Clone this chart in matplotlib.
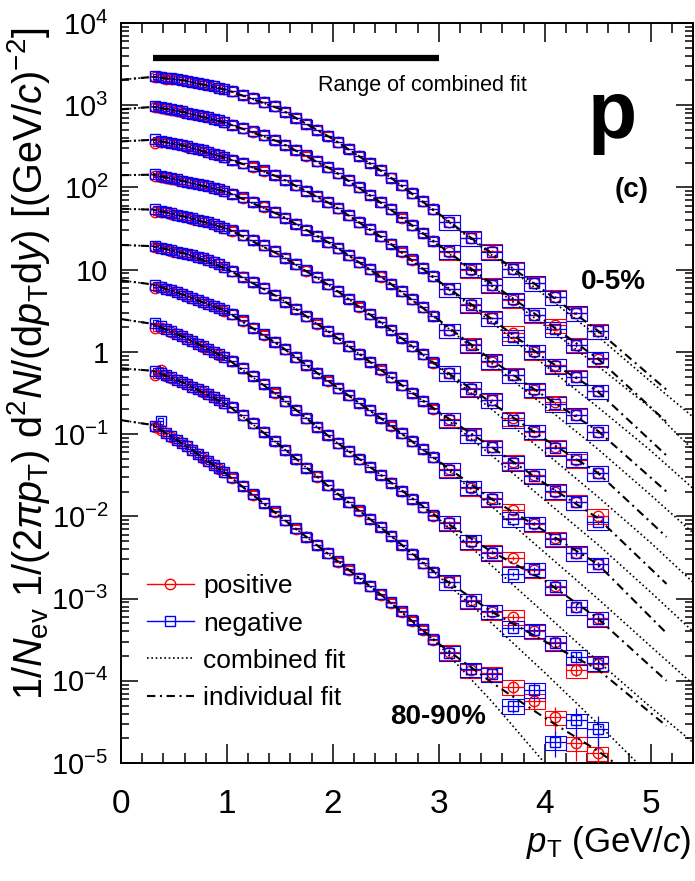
"""
Identified proton spectra, ten centrality classes, positive and negative
charge, with combined and individual fits.  Writes out.png.
"""

import numpy as np
import matplotlib
matplotlib.use("Agg")
import matplotlib.pyplot as plt
import matplotlib.ticker as ticker
from matplotlib.lines import Line2D

plt.rcParams["font.family"] = ["Liberation Sans", "DejaVu Sans"]
plt.rcParams["mathtext.fontset"] = "custom"
plt.rcParams["mathtext.rm"] = "Liberation Sans"
plt.rcParams["mathtext.it"] = "Liberation Sans:italic"
plt.rcParams["mathtext.bf"] = "Liberation Sans:bold"

# ---------------------------------------------------------------------------
# Data
# ---------------------------------------------------------------------------

PT_EDGES = [0.30, 0.35, 0.40, 0.45, 0.50, 0.55, 0.60, 0.65, 0.70, 0.75,
            0.80, 0.85, 0.90, 0.95, 1.00, 1.1, 1.2, 1.3, 1.4, 1.5, 1.6,
            1.7, 1.8, 1.9, 2.0, 2.1, 2.2, 2.3, 2.4, 2.5, 2.6, 2.7, 2.8,
            2.9, 3.0, 3.2, 3.4, 3.6, 3.8, 4.0, 4.2, 4.4, 4.6]

CENTRALITIES = ["0-5%", "5-10%", "10-20%", "20-30%", "30-40%",
                "40-50%", "50-60%", "60-70%", "70-80%", "80-90%"]

pos_0_5 = [2220, 2190, 2080, 2110, 2070, 2030, 1980, 1930, 1870, 1820, 1750, 1690, 1630, 1570,
           1470, 1340, 1210, 1090, 966, 832, 700, 596, 501, 427, 355, 295, 243, 200, 162, 132,
           107, 85.0, 68.0, 54.0,
           38.3, 24.0, 17.0, 10.1, 6.80, 4.68, 2.94, 1.80]
neg_0_5 = [2250, 2200, 2170, 2120, 2080, 2030, 1990, 1930, 1880, 1820, 1760, 1700, 1630, 1580,
           1480, 1340, 1220, 1090, 970, 835, 705, 598, 503, 428, 356, 296, 244, 200, 163, 132,
           107, 85.5, 68.0, 54.5,
           38.0, 24.5, 16.6, 10.3, 6.90, 4.60, 3.00, 1.78]

pos_5_10 = [960, 938, 912, 887, 861, 836, 813, 789, 766, 741, 713, 684, 653, 617,
            578, 527, 479, 431, 380, 331, 285, 244, 208, 177, 148, 122, 100, 81.0, 66.0, 54.0,
            43.0, 34.7, 27.9, 22.4,
            16.5, 9.90, 6.60, 4.27, 2.81, 2.10, 1.23, 0.83]
neg_5_10 = [975, 945, 918, 890, 865, 840, 815, 790, 768, 742, 715, 686, 655, 620,
            580, 528, 480, 432, 381, 332, 286, 245, 209, 177, 148, 122, 101, 81.5, 66.0, 54.0,
            43.3, 34.8, 28.0, 22.5,
            16.8, 10.1, 6.50, 4.35, 2.85, 1.92, 1.20, 0.84]

pos_10_20 = [345, 355, 356, 345, 334, 324, 314, 305, 295, 283, 270, 258, 245, 232,
             216, 197, 179, 160, 141, 123, 106, 91.0, 78.0, 66.0, 55.6, 45.9, 37.8, 31.0, 25.4,
             20.7, 16.6, 13.2, 10.5, 8.30,
             5.75, 3.81, 2.56, 1.70, 1.00, 0.69, 0.50, 0.33]
neg_10_20 = [385, 370, 358, 346, 335, 325, 315, 305, 296, 284, 271, 258, 246, 233,
             217, 198, 180, 161, 142, 124, 107, 91.5, 78.0, 66.5, 55.8, 46.0, 38.0, 31.1, 25.5,
             20.8, 16.7, 13.3, 10.5, 8.35,
             5.80, 3.75, 2.60, 1.52, 1.02, 0.68, 0.49, 0.33]

pos_20_30 = [138, 135, 132, 128, 124, 121, 117, 114, 111, 107, 104, 99.0, 95.0, 90.0,
             83.6, 75.2, 67.0, 58.6, 50.1, 42.7, 35.9, 30.5, 25.7, 21.6, 18.1, 15.0, 12.3, 10.1,
             8.26, 6.76, 5.43, 4.37, 3.47, 2.75,
             1.84, 1.24, 0.76, 0.53, 0.343, 0.243, 0.170, 0.107]
neg_20_30 = [145, 139, 133, 129, 125, 121, 118, 114, 111, 108, 104, 99.5, 95.0, 90.5,
             84.0, 75.5, 67.2, 58.8, 50.3, 42.8, 36.0, 30.6, 25.8, 21.7, 18.2, 15.0, 12.4, 10.1,
             8.30, 6.78, 5.45, 4.38, 3.48, 2.76,
             1.84, 1.20, 0.78, 0.52, 0.350, 0.235, 0.172, 0.107]

pos_30_40 = [50.0, 50.5, 49.7, 48.1, 46.5, 44.9, 43.4, 41.9, 40.5, 39.1, 37.6, 36.0, 34.3, 32.4,
             29.9, 26.3, 22.9, 19.7, 16.7, 14.0, 11.6, 9.77, 8.13, 6.61, 5.47, 4.42, 3.56, 2.87,
             2.31, 1.85, 1.48, 1.17, 0.933, 0.741,
             0.557, 0.360, 0.259, 0.155, 0.107, 0.070, 0.0483, 0.0339]
neg_30_40 = [55.0, 52.0, 49.9, 48.3, 46.6, 45.0, 43.5, 42.0, 40.6, 39.2, 37.7, 36.1, 34.4, 32.5,
             30.0, 26.4, 23.0, 19.8, 16.8, 14.0, 11.7, 9.80, 8.15, 6.63, 5.48, 4.43, 3.57, 2.88,
             2.32, 1.86, 1.48, 1.18, 0.935, 0.745,
             0.560, 0.355, 0.262, 0.150, 0.108, 0.068, 0.050, 0.034]

pos_40_50 = [19.0, 18.3, 17.7, 17.1, 16.6, 16.0, 15.5, 14.9, 14.3, 13.7, 13.0, 12.3, 11.6, 10.7,
             9.55, 8.22, 7.08, 5.96, 4.95, 4.07, 3.33, 2.72, 2.21, 1.80, 1.46, 1.17, 0.944, 0.759,
             0.610, 0.490, 0.394, 0.316, 0.254, 0.204,
             0.151, 0.097, 0.070, 0.046, 0.0316, 0.0200, 0.0151, 0.0102]
neg_40_50 = [19.5, 18.6, 17.8, 17.2, 16.6, 16.1, 15.5, 15.0, 14.4, 13.7, 13.1, 12.3, 11.6, 10.8,
             9.60, 8.25, 7.10, 5.98, 4.97, 4.08, 3.34, 2.73, 2.22, 1.81, 1.46, 1.18, 0.948, 0.762,
             0.612, 0.492, 0.396, 0.318, 0.255, 0.205,
             0.150, 0.098, 0.069, 0.045, 0.0310, 0.0205, 0.0148, 0.0085]

pos_50_60 = [6.00, 6.17, 5.89, 5.60, 5.32, 5.05, 4.79, 4.53, 4.29, 4.05, 3.82, 3.60, 3.39, 3.18,
             2.88, 2.40, 1.97, 1.62, 1.32, 1.07, 0.861, 0.692, 0.556, 0.447, 0.363, 0.295, 0.240,
             0.195, 0.158, 0.127, 0.102, 0.0822, 0.0661, 0.0525,
             0.0372, 0.0224, 0.0166, 0.0119, 0.0081, 0.0054, 0.00355, 0.00263]
neg_50_60 = [6.60, 6.20, 5.90, 5.62, 5.33, 5.06, 4.80, 4.54, 4.30, 4.06, 3.83, 3.61, 3.40, 3.19,
             2.89, 2.41, 1.98, 1.63, 1.33, 1.07, 0.865, 0.695, 0.558, 0.449, 0.364, 0.296, 0.241,
             0.196, 0.159, 0.128, 0.102, 0.0825, 0.0663, 0.0527,
             0.0370, 0.0226, 0.0163, 0.0093, 0.0082, 0.0053, 0.00360, 0.00260]

pos_60_70 = [1.95, 1.98, 1.89, 1.77, 1.66, 1.55, 1.45, 1.35, 1.25, 1.16, 1.08, 1.00, 0.925, 0.855,
             0.776, 0.638, 0.513, 0.407, 0.320, 0.251, 0.197, 0.155, 0.123, 0.0977, 0.0776, 0.0617,
             0.0495, 0.0398, 0.0320, 0.0257, 0.0204, 0.0162, 0.0129, 0.0102,
             0.0085, 0.0049, 0.0037, 0.0031, 0.00224, 0.00141, 0.00079, 0.00058]
neg_60_70 = [2.25, 2.04, 1.90, 1.78, 1.67, 1.56, 1.45, 1.35, 1.26, 1.17, 1.08, 1.00, 0.930, 0.860,
             0.780, 0.640, 0.515, 0.408, 0.321, 0.252, 0.198, 0.156, 0.123, 0.0980, 0.0778, 0.0619,
             0.0497, 0.0400, 0.0321, 0.0258, 0.0205, 0.0163, 0.0130, 0.0103,
             0.0084, 0.0050, 0.0036, 0.0020, 0.00226, 0.00140, 0.00080, 0.00057]

pos_70_80 = [0.520, 0.600, 0.516, 0.488, 0.459, 0.432, 0.405, 0.378, 0.353, 0.329, 0.305, 0.282,
             0.261, 0.240,
             0.211, 0.170, 0.135, 0.106, 0.0832, 0.0646, 0.0501, 0.0389, 0.0305, 0.0240, 0.0188,
             0.0148, 0.0117, 0.00933, 0.00741, 0.00575, 0.00447, 0.00347, 0.00269, 0.00209,
             0.00158, 0.00095, 0.00069, 0.00060, 0.00040, 0.000295, 0.000135, 0.000162]
neg_70_80 = [0.590, 0.550, 0.518, 0.490, 0.460, 0.433, 0.406, 0.379, 0.354, 0.330, 0.306, 0.283,
             0.262, 0.241,
             0.212, 0.171, 0.136, 0.107, 0.0835, 0.0648, 0.0503, 0.0390, 0.0306, 0.0241, 0.0189,
             0.0149, 0.0118, 0.00938, 0.00745, 0.00578, 0.00450, 0.00349, 0.00271, 0.00210,
             0.00160, 0.00094, 0.00070, 0.00044, 0.00041, 0.000290, 0.000195, 0.000165]

pos_80_90 = [0.123, 0.112, 0.102, 0.0933, 0.0851, 0.0776, 0.0708, 0.0638, 0.0575, 0.0519, 0.0468,
             0.0422, 0.0380, 0.0343,
             0.0295, 0.0234, 0.0184, 0.0145, 0.0114, 0.00891, 0.00708, 0.00562, 0.00447, 0.00355,
             0.00282, 0.00224, 0.00178, 0.00141, 0.00112, 0.00089, 0.00069, 0.00054, 0.00042,
             0.000316,
             0.000224, 0.000135, 0.000123, 8.5e-5, 5.75e-5, 3.6e-5, 1.74e-5, 1.32e-5]
neg_80_90 = [0.125, 0.145, 0.104, 0.0940, 0.0855, 0.0780, 0.0710, 0.0640, 0.0578, 0.0521, 0.0470,
             0.0424, 0.0382, 0.0345,
             0.0297, 0.0236, 0.0185, 0.0146, 0.0115, 0.00895, 0.00712, 0.00565, 0.00450, 0.00357,
             0.00284, 0.00226, 0.00179, 0.00142, 0.00113, 0.00090, 0.00070, 0.00055, 0.00043,
             0.000320,
             0.000220, 0.000138, 0.000120, 5.0e-5, 7.8e-5, 1.8e-5, 3.3e-5, 2.6e-5]

POSITIVE = [pos_0_5, pos_5_10, pos_10_20, pos_20_30, pos_30_40,
            pos_40_50, pos_50_60, pos_60_70, pos_70_80, pos_80_90]
NEGATIVE = [neg_0_5, neg_5_10, neg_10_20, neg_20_30, neg_30_40,
            neg_40_50, neg_50_60, neg_60_70, neg_70_80, neg_80_90]

# relative statistical errors of the eight bins above 3 GeV/c
STAT_REL_HIGH = [
    [0.01, 0.01, 0.015, 0.02, 0.02, 0.03, 0.03, 0.04],
    [0.01, 0.015, 0.015, 0.02, 0.025, 0.03, 0.035, 0.04],
    [0.01, 0.01, 0.015, 0.02, 0.02, 0.025, 0.03, 0.035],
    [0.01, 0.01, 0.015, 0.02, 0.02, 0.025, 0.03, 0.035],
    [0.01, 0.015, 0.015, 0.02, 0.025, 0.03, 0.035, 0.04],
    [0.015, 0.02, 0.02, 0.025, 0.03, 0.04, 0.045, 0.05],
    [0.02, 0.025, 0.03, 0.035, 0.04, 0.05, 0.06, 0.07],
    [0.03, 0.035, 0.04, 0.05, 0.06, 0.07, 0.08, 0.10],
    [0.04, 0.05, 0.06, 0.08, 0.10, 0.12, 0.15, 0.18],
    [0.08, 0.10, 0.12, 0.18, 0.22, 0.35, 0.40, 0.45],
]
# relative systematic errors (boxes) below 1, 1-3 and above 3 GeV/c
SYS_REL_LOW, SYS_REL_MID, SYS_REL_HIGH = 0.08, 0.12, 0.20

# fit curves
IND_PT = [0.0, 0.3, 0.6, 1.0, 1.5, 2.0, 2.5, 3.0, 3.5, 4.0, 4.5, 5.15]
COMB_PT = [0.0, 0.3, 0.6, 1.0, 1.5, 2.0, 2.5, 3.0, 3.5, 4.0, 4.5, 5.0, 5.4]

ind_0_5 = [2040, 2210, 2000, 1530, 902, 389, 146, 47.9, 15.8, 5.50, 1.82, 0.347]
ind_5_10 = [891, 955, 822, 603, 355, 162, 59.4, 20.0, 6.76, 2.40, 0.832, 0.141]
ind_10_20 = [363, 380, 320, 226, 132, 61.1, 22.9, 7.24, 2.51, 0.832, 0.331, 0.0550]
ind_20_30 = [141, 143, 119, 87.9, 46.1, 20.0, 7.46, 2.45, 0.794, 0.288, 0.110, 0.0200]
ind_30_40 = [55.0, 53.7, 44.2, 31.6, 15.1, 6.03, 2.06, 0.661, 0.240, 0.0871, 0.0339, 0.00562]
ind_40_50 = [20.0, 19.3, 15.8, 10.2, 4.52, 1.62, 0.547, 0.186, 0.0692, 0.0251, 0.00955, 0.00151]
ind_50_60 = [7.41, 6.61, 4.90, 3.09, 1.19, 0.403, 0.141, 0.0468, 0.0162, 0.00661, 0.00263, 0.000380]
ind_60_70 = [2.51, 2.19, 1.50, 0.83, 0.283, 0.0861, 0.0288, 0.00955, 0.00372, 0.00166, 0.000575,
             0.000100]
ind_70_80 = [0.631, 0.589, 0.417, 0.229, 0.0733, 0.0209, 0.00653, 0.00191, 0.000692, 0.000302,
             0.000138, 2.82e-5]
ind_80_90 = [0.148, 0.129, 0.0741, 0.0324, 0.0100, 0.00316, 0.00100, 0.000282, 9.55e-5, 3.55e-5,
             1.41e-5, 3.55e-6]

comb_0_5 = [2040, 2210, 2000, 1530, 902, 389, 146, 46.8, 15.1, 4.90, 1.55, 0.437, 0.162]
comb_5_10 = [891, 955, 822, 603, 355, 162, 59.4, 19.5, 6.31, 2.09, 0.676, 0.209, 0.0646]
comb_10_20 = [363, 380, 320, 226, 132, 61.1, 22.9, 7.08, 2.29, 0.692, 0.214, 0.0631, 0.0219]
comb_20_30 = [141, 143, 119, 87.9, 46.1, 20.0, 7.46, 2.40, 0.724, 0.219, 0.0661, 0.0182, 0.00631]
comb_30_40 = [55.0, 53.7, 44.2, 31.6, 15.1, 6.03, 2.06, 0.646, 0.200, 0.0603, 0.0174, 0.00479,
              0.00158]
comb_40_50 = [20.0, 19.3, 15.8, 10.2, 4.52, 1.62, 0.547, 0.182, 0.0550, 0.0158, 0.00457, 0.00120,
              0.000398]
comb_50_60 = [7.41, 6.61, 4.90, 3.09, 1.19, 0.403, 0.141, 0.0457, 0.0132, 0.00363, 0.00100,
              0.000263, 9.12e-5]
comb_60_70 = [2.51, 2.19, 1.50, 0.83, 0.283, 0.0861, 0.0288, 0.00933, 0.00251, 0.000661, 0.000174,
              4.79e-5, 1.78e-5]
comb_70_80 = [0.631, 0.589, 0.417, 0.229, 0.0733, 0.0209, 0.00653, 0.00186, 0.000501, 0.000126,
              3.02e-5, 6.92e-6, 2.24e-6]
comb_80_90 = [0.148, 0.129, 0.0741, 0.0324, 0.0100, 0.00316, 0.00100, 0.000275, 5.62e-5, 1.00e-5,
              1.78e-6, 3.16e-7, 7.94e-8]

INDIVIDUAL_FIT = [ind_0_5, ind_5_10, ind_10_20, ind_20_30, ind_30_40,
                  ind_40_50, ind_50_60, ind_60_70, ind_70_80, ind_80_90]
COMBINED_FIT = [comb_0_5, comb_5_10, comb_10_20, comb_20_30, comb_30_40,
                comb_40_50, comb_50_60, comb_60_70, comb_70_80, comb_80_90]

FIT_RANGE = [0.3, 3.0]

# ---------------------------------------------------------------------------
# Style
# ---------------------------------------------------------------------------

COLOR_POS = "#ff0000"
COLOR_NEG = "#0000ff"
LS_COMB = (0, (1.0, 1.6))
LS_IND = (0, (4.0, 2.2, 1.0, 2.2))


def log_label(v, _):
    e = int(round(np.log10(v)))
    if e == 0:
        return "1"
    if e == 1:
        return "10"
    return r"$10^{%d}$" % e


def main() -> None:
    edges = np.array(PT_EDGES)
    centers = 0.5 * (edges[1:] + edges[:-1])
    widths = edges[1:] - edges[:-1]
    sys_rel = np.where(centers < 1.0, SYS_REL_LOW,
                       np.where(centers < 3.0, SYS_REL_MID, SYS_REL_HIGH))
    n_low = int(np.sum(centers < 3.0))

    fig = plt.figure(figsize=(6.95, 8.81), dpi=100)
    ax = fig.add_axes([0.1741, 0.1339, 0.8230, 0.8400])
    ax.set_yscale("log")
    ax.set_xlim(0, 5.4)
    ax.set_ylim(1e-5, 1e4)

    for i in range(len(CENTRALITIES)):
        stat_rel = np.concatenate([np.zeros(n_low), STAT_REL_HIGH[i]])
        for vals, color, marker in ((POSITIVE[i], COLOR_POS, "o"),
                                    (NEGATIVE[i], COLOR_NEG, "s")):
            y = np.array(vals)
            sys = y * sys_rel
            ax.bar(centers, 2 * sys, bottom=y - sys, width=widths,
                   fill=False, edgecolor=color, linewidth=0.8, zorder=2)
            ax.errorbar(centers, y, xerr=widths / 2, yerr=y * stat_rel,
                        fmt=marker, ms=7.5, mfc="none", mec=color, mew=1.0,
                        ecolor=color, elinewidth=0.9, capsize=0, zorder=3)
        ax.plot(COMB_PT, COMBINED_FIT[i], color="k", ls=LS_COMB, lw=1.2, zorder=4)
        ax.plot(IND_PT, INDIVIDUAL_FIT[i], color="k", ls=LS_IND, lw=1.5, zorder=4)

    # range of the combined fit
    ax.plot(FIT_RANGE, [0.953, 0.953], color="k", lw=4.5,
            solid_capstyle="butt", transform=ax.get_xaxis_transform())
    ax.text(0.344, 0.916, "Range of combined fit", transform=ax.transAxes,
            fontsize=15.5, ha="left", va="center")

    ax.text(0.858, 0.845, "p", transform=ax.transAxes, fontsize=58,
            fontweight="bold", ha="center", va="baseline")
    ax.text(0.893, 0.774, "(c)", transform=ax.transAxes, fontsize=20,
            fontweight="bold", ha="center", va="center")
    ax.text(0.860, 0.650, CENTRALITIES[0], transform=ax.transAxes, fontsize=20,
            fontweight="bold", ha="center", va="center")
    ax.text(0.554, 0.062, CENTRALITIES[-1], transform=ax.transAxes, fontsize=20,
            fontweight="bold", ha="center", va="center")

    # axes styling
    ax.xaxis.set_major_locator(ticker.MultipleLocator(1))
    ax.xaxis.set_minor_locator(ticker.MultipleLocator(0.2))
    ax.yaxis.set_major_locator(ticker.LogLocator(base=10, numticks=20))
    ax.yaxis.set_minor_locator(ticker.LogLocator(base=10, subs=np.arange(2, 10), numticks=20))
    ax.yaxis.set_major_formatter(ticker.FuncFormatter(log_label))
    ax.yaxis.set_minor_formatter(ticker.NullFormatter())
    ax.tick_params(which="both", direction="in", top=True, right=True, width=1.1)
    ax.tick_params(axis="x", which="major", length=14, pad=19, labelsize=24)
    ax.tick_params(axis="x", which="minor", length=7)
    ax.tick_params(axis="y", which="major", length=12, pad=9, labelsize=21)
    ax.tick_params(axis="y", which="minor", length=6)
    for sp in ax.spines.values():
        sp.set_linewidth(1.4)

    ax.set_xlabel(r"$p_{\rm T}$ (GeV/$c$)", fontsize=25, loc="right")
    ax.xaxis.set_label_coords(0.997, -0.083)
    ax.set_ylabel(r"$1/N_{\rm ev}\ 1/(2\pi p_{\rm T})\ {\rm d}^{2}N/({\rm d}p_{\rm T}{\rm d}y)"
                  r"\ [({\rm GeV}/c)^{-2}]$", fontsize=28.5)
    ax.yaxis.set_label_coords(-0.121, 0.54)

    handles = [
        Line2D([], [], color=COLOR_POS, marker="o", ms=7.5, mfc="none", mew=1.0, lw=1.0),
        Line2D([], [], color=COLOR_NEG, marker="s", ms=7.5, mfc="none", mew=1.0, lw=1.0),
        Line2D([], [], color="k", ls=LS_COMB, lw=1.2),
        Line2D([], [], color="k", ls=LS_IND, lw=1.5),
    ]
    ax.legend(handles, ["positive", "negative", "combined fit", "individual fit"],
              loc="upper left", bbox_to_anchor=(0.045, 0.255), frameon=False,
              fontsize=19, handlelength=1.78, handletextpad=0.36, labelspacing=0.5,
              borderpad=0, borderaxespad=0)

    fig.savefig("out.png", dpi=100)
    plt.close(fig)


if __name__ == "__main__":
    main()
